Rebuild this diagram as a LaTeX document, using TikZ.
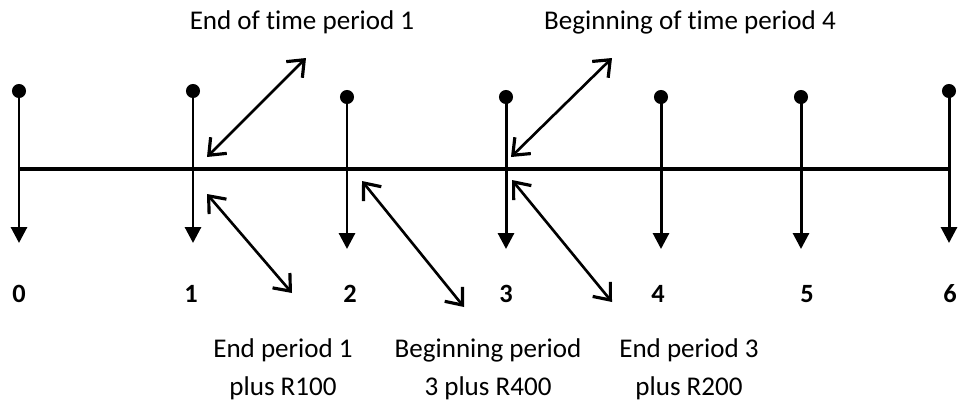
\documentclass[tikz,border=0pt]{standalone}
\usepackage{fontspec}
\setmainfont{Carlito}[Ligatures=NoCommon]
\usetikzlibrary{arrows.meta}
\begin{document}
\begin{tikzpicture}[x=0.02cm,y=-0.02cm,
  dotnode/.style={circle,fill=black,inner sep=0pt,minimum size=8pt},
  vline/.style={line width=1.7pt,-{Triangle[length=9pt,width=9pt]}},
  axis/.style={line width=2.3pt},
  dbl/.style={line width=1.5pt,{Straight Barb[length=8pt,width=13pt,line width=1.8pt]}-{Straight Barb[length=8pt,width=13pt,line width=1.8pt]}},
  num/.style={font=\bfseries\fontsize{15pt}{17pt}\selectfont},
  lab/.style={font=\fontsize{15.4pt}{19pt}\selectfont,align=center}]
\useasboundingbox (0,0) rectangle (959,403);
% axis
\coordinate (h0) at (19,169);
\coordinate (h6) at (949,169);
\draw[axis] (h0) -- (h6);
% verticals
\foreach \i/\x/\yt/\yb in {0/19/91/243,1/193/91/243,2/347/97/249,3/506/97/249,4/661/97/249,5/801/97/249,6/949/91/243}{
  \node[dotnode] (d\i) at (\x,\yt) {};
  \coordinate (b\i) at (\x,\yb);
  \draw[vline] (d\i.center) -- (b\i);
}
% numbers
\node[num] (n0) at (19,294) {0};
\node[num] (n1) at (191,294) {1};
\node[num] (n2) at (350,294) {2};
\node[num] (n3) at (506,294) {3};
\node[num] (n4) at (658,294) {4};
\node[num] (n5) at (807,294) {5};
\node[num] (n6) at (950,294) {6};
% labels
\node[lab] (lt1) at (302,22) {End of time period 1};
\node[lab] (lt4) at (690,22) {Beginning of time period 4};
\node[lab] (lb1) at (283,369) {End period 1\\[2.5pt]plus R100};
\node[lab] (lb3) at (488,369) {Beginning period\\[2.5pt]3 plus R400};
\node[lab] (lb3e) at (689,369) {End period 3\\[2.5pt]plus R200};
% double arrows
\coordinate (a1s) at (207,157); \coordinate (a1e) at (306,58);
\coordinate (a2s) at (207,194); \coordinate (a2e) at (292,293);
\coordinate (a3s) at (362,181); \coordinate (a3e) at (464,307);
\coordinate (a4s) at (511,157); \coordinate (a4e) at (612,58);
\coordinate (a5s) at (512,180); \coordinate (a5e) at (612,302);
\draw[dbl] (a1s) -- (a1e);
\draw[dbl] (a2s) -- (a2e);
\draw[dbl] (a3s) -- (a3e);
\draw[dbl] (a4s) -- (a4e);
\draw[dbl] (a5s) -- (a5e);
\end{tikzpicture}
\end{document}
